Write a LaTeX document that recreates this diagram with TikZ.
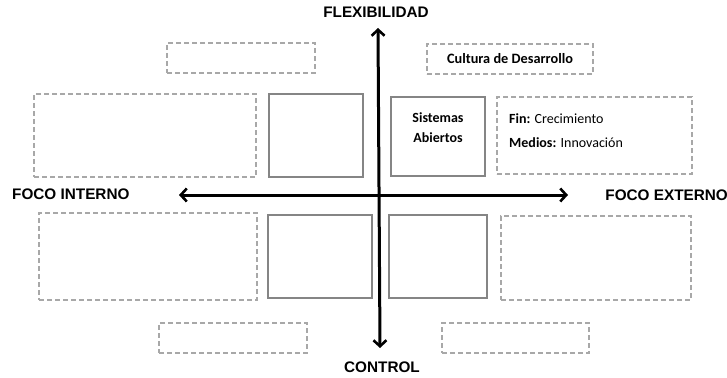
\documentclass[tikz,border=0pt]{standalone}
\usepackage{fontspec}
\setmainfont{Liberation Sans}
\newfontfamily\calib{Carlito}
\usetikzlibrary{arrows.meta}
\definecolor{dashgray}{HTML}{A8A8A8}
\definecolor{solidgray}{HTML}{858585}
\begin{document}
\begin{tikzpicture}[x=1pt,y=-1pt,
  dbox/.style={draw=dashgray,line width=1.3pt,dash pattern=on 5pt off 3pt,minimum width=#1,inner sep=0pt},
  sbox/.style={draw=solidgray,line width=2.4pt,inner sep=0pt},
  axlabel/.style={font=\bfseries\fontsize{15.3}{17}\selectfont,inner sep=0pt},
  btext/.style={font=\calib\fontsize{14}{22}\selectfont,inner sep=0pt},
  axis/.style={line width=3pt,{Straight Barb[length=6pt,width=13pt,line width=2.6pt]}-{Straight Barb[length=6pt,width=13pt,line width=2.6pt]}}]
\useasboundingbox (0,0) rectangle (727,377);
% dashed boxes
\node[dbox=148pt,minimum height=30pt] (tl) at (241,58) {};
\node[dbox=166pt,minimum height=30pt,btext,font=\calib\bfseries\fontsize{14.3}{16}\selectfont] (tr) at (510,59) {Cultura de Desarrollo};
\node[dbox=222pt,minimum height=83pt] (uld) at (145,135.5) {};
\node[dbox=195pt,minimum height=77pt] (urd) at (594.5,135.5) {};
\node[dbox=218pt,minimum height=87pt] (lld) at (148,256.5) {};
\node[dbox=190pt,minimum height=84pt] (lrd) at (596,258) {};
\node[dbox=148pt,minimum height=30pt] (bl) at (233,338) {};
\node[dbox=147pt,minimum height=30pt] (br) at (515.5,338) {};
% solid boxes
\node[sbox,minimum width=94pt,minimum height=83pt] (uls) at (316,135.5) {};
\node[sbox,minimum width=94pt,minimum height=79pt] (urs) at (438,136.5) {};
\node[sbox,minimum width=104pt,minimum height=83pt] (lls) at (320,256.5) {};
\node[sbox,minimum width=98pt,minimum height=83pt] (lrs) at (438,256.5) {};
% texts
\node[btext,align=center,font=\calib\bfseries\fontsize{14}{20}\selectfont] (sa) at (438,128) {Sistemas\\Abiertos};
\node[btext,anchor=west] (fin) at (509,119) {\textbf{Fin:} Crecimiento};
\node[btext,anchor=west] (med) at (509,143) {\textbf{Medios:} Innovación};
% axis labels
\node[axlabel] (flex) at (376,12) {FLEXIBILIDAD};
\node[axlabel] (ctrl) at (382,367) {CONTROL};
\node[axlabel,anchor=west] (fi) at (12,194) {FOCO INTERNO};
\node[axlabel,anchor=east] (fe) at (728,195) {FOCO EXTERNO};
% axes
\coordinate (top) at (378,28);
\coordinate (bot) at (380,348);
\coordinate (lft) at (179,195);
\coordinate (rgt) at (568,195);
\draw[axis] (lft) -- (rgt);
\draw[axis] (top) -- (bot);
\end{tikzpicture}
\end{document}
